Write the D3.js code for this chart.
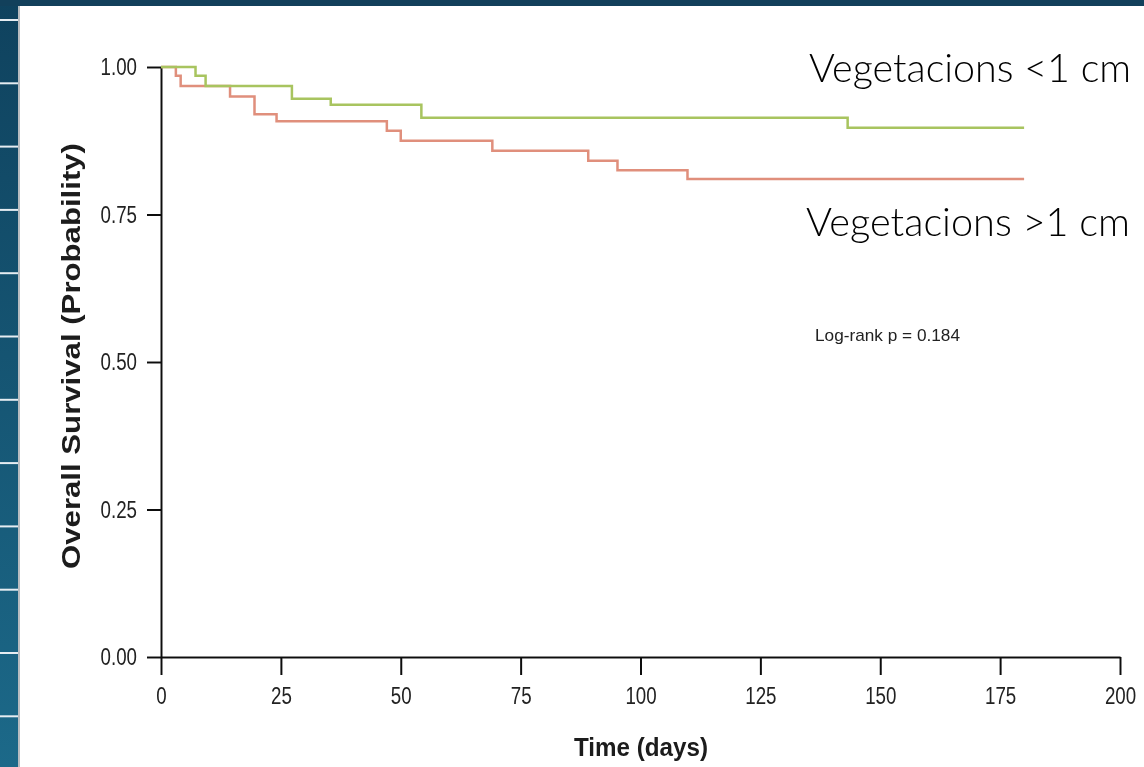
<!DOCTYPE html>
<html lang="en">
<head>
  <meta charset="UTF-8" />
  <title>Overall Survival - Vegetacions</title>
  <script src="https://d3js.org/d3.v7.min.js"></script>
  <style>
    html, body { margin: 0; padding: 0; background: #ffffff; }
    svg { display: block; }
    .tick text { font-family: "Liberation Sans", Arial, sans-serif; fill: #222; }
    .axis path, .axis line { stroke: #111; stroke-width: 2px; }
  </style>
</head>
<body>
  <div id="chart"></div>

  <script>
    // data (days, survival probability)
    const greenTimes = [0, 7.2, 9.3, 27.3, 35.4, 54.3, 143.2, 180];
    const greenSurv  = [1.0, 0.985, 0.968, 0.946, 0.936, 0.914, 0.897, 0.897];

    const redTimes = [0, 3.1, 4.1, 14.4, 19.5, 24.1, 47.1, 50.0, 69.1, 89.1, 95.2, 109.8, 180];
    const redSurv  = [1.0, 0.985, 0.968, 0.950, 0.920, 0.908, 0.892, 0.875, 0.858, 0.841, 0.825, 0.810, 0.810];

    const xTicks = [0, 25, 50, 75, 100, 125, 150, 175, 200];
    const yTicks = [0, 0.25, 0.5, 0.75, 1.0];

    const seriesNames = ["Vegetacions <1 cm", "Vegetacions >1 cm"];
    const pValueLabel = "Log-rank p = 0.184";

    const width = 1144, height = 767;

    const svg = d3.select("#chart")
      .append("svg")
      .attr("width", width)
      .attr("height", height);

    // slide frame: dark strip on the left and on top
    const defs = svg.append("defs");
    const grad = defs.append("linearGradient")
      .attr("id", "strip")
      .attr("x1", 0).attr("y1", 0).attr("x2", 0).attr("y2", 1);
    grad.append("stop").attr("offset", "0%").attr("stop-color", "#0f425e");
    grad.append("stop").attr("offset", "100%").attr("stop-color", "#1c6989");

    defs.append("filter").attr("id", "soft")
      .append("feGaussianBlur").attr("stdDeviation", 0.45);

    svg.append("rect").attr("x", 0).attr("y", 0).attr("width", 18).attr("height", height)
      .attr("fill", "url(#strip)");
    svg.append("rect").attr("x", 0).attr("y", 0).attr("width", width).attr("height", 6)
      .attr("fill", "#12405b");
    svg.append("rect").attr("x", 18).attr("y", 6).attr("width", 2).attr("height", height)
      .attr("fill", "#b8bcc0");

    d3.range(20, height, 63.3).forEach(y => {
      svg.append("line")
        .attr("x1", 0).attr("x2", 18)
        .attr("y1", y).attr("y2", y)
        .attr("stroke", "#e6edf2")
        .attr("stroke-width", 2);
    });

    // plot
    const x = d3.scaleLinear().domain([0, 200]).range([161, 1120]);
    const y = d3.scaleLinear().domain([0, 1]).range([657, 67]);

    const g = svg.append("g").attr("filter", "url(#soft)");

    // squeeze tick labels horizontally, the original font is condensed
    function narrow(sel) {
      sel.selectAll(".tick text")
        .attr("font-size", 24)
        .each(function () {
          const w = this.getComputedTextLength();
          d3.select(this)
            .attr("textLength", w * 0.78)
            .attr("lengthAdjust", "spacingAndGlyphs");
        });
    }

    g.append("g")
      .attr("class", "axis")
      .attr("transform", `translate(0,${y(0)})`)
      .call(d3.axisBottom(x).tickValues(xTicks).tickSize(18).tickSizeOuter(0).tickPadding(12).tickFormat(d3.format("d")))
      .call(narrow);

    g.append("g")
      .attr("class", "axis")
      .attr("transform", `translate(${x(0)},0)`)
      .call(d3.axisLeft(y).tickValues(yTicks).tickSize(14).tickSizeOuter(0).tickPadding(10).tickFormat(d3.format(".2f")))
      .call(narrow);

    const line = d3.line()
      .x(d => x(d[0]))
      .y(d => y(d[1]))
      .curve(d3.curveStepAfter);

    const greenData = greenTimes.map((t, i) => [t, greenSurv[i]]);
    const redData = redTimes.map((t, i) => [t, redSurv[i]]);

    g.append("path")
      .datum(redData)
      .attr("fill", "none")
      .attr("stroke", "#e08f7c")
      .attr("stroke-width", 2.5)
      .attr("d", line);

    g.append("path")
      .datum(greenData)
      .attr("fill", "none")
      .attr("stroke", "#a8c45e")
      .attr("stroke-width", 2.5)
      .attr("d", line);

    // axis titles
    g.append("text")
      .attr("x", 641)
      .attr("y", 756)
      .attr("text-anchor", "middle")
      .attr("font-family", "Liberation Sans, Arial, sans-serif")
      .attr("font-weight", "bold")
      .attr("font-size", 25)
      .attr("textLength", 134)
      .attr("lengthAdjust", "spacingAndGlyphs")
      .attr("fill", "#1a1a1a")
      .text("Time (days)");

    g.append("text")
      .attr("transform", "translate(80,356) rotate(-90)")
      .attr("text-anchor", "middle")
      .attr("font-family", "Liberation Sans, Arial, sans-serif")
      .attr("font-weight", "bold")
      .attr("font-size", 26)
      .attr("textLength", 426)
      .attr("lengthAdjust", "spacingAndGlyphs")
      .attr("fill", "#1a1a1a")
      .text("Overall Survival (Probability)");

    g.append("text")
      .attr("x", 815)
      .attr("y", 341)
      .attr("font-family", "Liberation Sans, Arial, sans-serif")
      .attr("font-size", 17)
      .attr("textLength", 145)
      .attr("lengthAdjust", "spacingAndGlyphs")
      .attr("fill", "#222")
      .text(pValueLabel);

    // group labels
    svg.append("text")
      .attr("x", 809)
      .attr("y", 82)
      .attr("font-family", "Lato, Open Sans, sans-serif")
      .attr("font-weight", 300)
      .attr("font-size", 40)
      .attr("textLength", 322)
      .attr("lengthAdjust", "spacingAndGlyphs")
      .attr("fill", "#000")
      .text(seriesNames[0]);

    svg.append("text")
      .attr("x", 806)
      .attr("y", 236)
      .attr("font-family", "Lato, Open Sans, sans-serif")
      .attr("font-weight", 300)
      .attr("font-size", 40)
      .attr("textLength", 324)
      .attr("lengthAdjust", "spacingAndGlyphs")
      .attr("fill", "#000")
      .text(seriesNames[1]);
  </script>
</body>
</html>
